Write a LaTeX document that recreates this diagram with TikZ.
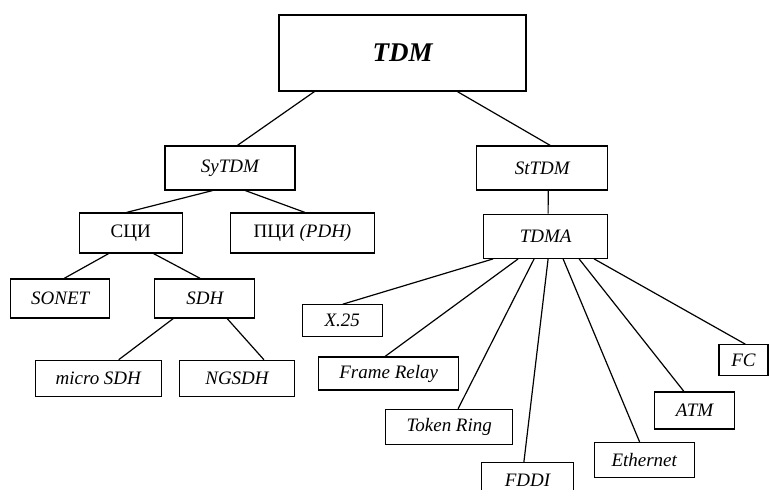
\documentclass[tikz,border=0pt]{standalone}
\usepackage{fontspec}
\setmainfont{Liberation Serif}
\usetikzlibrary{calc}

\tikzset{
  box/.style 2 args={draw, rectangle, inner sep=0pt, line width=0.6pt,
    minimum width=#1*0.5pt, minimum height=#2*0.5pt,
    font=\fontsize{9.5}{11}\selectfont\itshape},
  link/.style={line width=0.6pt}
}

\begin{document}
\begin{tikzpicture}[x=0.5pt, y=-0.5pt]
        \useasboundingbox (0,0) rectangle (769,489);
        \clip (0,0) rectangle (769,489);

        \node[box={247}{76}, font=\fontsize{13.5}{15}\selectfont\bfseries\itshape] (TDM) at (402.5,53) {TDM};

        \node[box={130}{44}] (SyTDM) at (230,168)   {SyTDM};
        \node[box={131}{44}] (StTDM) at (542.3,168) {StTDM};

        \node[box={103}{40}, font=\fontsize{9.5}{11}\selectfont] (SCI) at (130.7,233) {СЦИ};
        \node[box={144}{40}, font=\fontsize{9.5}{11}\selectfont] (PCI) at (302.5,233) {ПЦИ \textit{(PDH)}};
        \node[box={124}{44}] (TDMA) at (545.7,236.3) {TDMA};

        \node[box={99}{39}]  (SONET)  at (60.2,298.5)  {SONET};
        \node[box={100}{39}] (SDH)    at (204.8,298.5) {SDH};
        \node[box={126}{36}] (microSDH) at (98.3,378.3) {micro SDH};
        \node[box={115}{36}] (NGSDH)  at (237,378.3)   {NGSDH};

        \node[box={80}{32}]  (X25)    at (342.3,320.8) {X.25};
        \node[box={140}{33}] (FR)     at (388.7,373.5) {Frame Relay};
        \node[box={127}{35}] (TR)     at (449.2,426.8) {Token Ring};
        \node[box={92}{35}]  (FDDI)   at (527.5,480)   {FDDI};
        \node[box={100}{35}] (Eth)    at (644.2,460)   {Ethernet};
        \node[box={80}{37}]  (ATM)    at (694.5,410.5) {ATM};
        \node[box={49}{31}]  (FC)     at (743.5,360.3) {FC};

        % top level
        \draw[link] ($(TDM.south west)+(36,0)$)  -- ($(SyTDM.north west)+(73,0)$);
        \draw[link] ($(TDM.south west)+(179,0)$) -- ($(StTDM.north west)+(74,0)$);

        % synchronous branch
        \draw[link] ($(SyTDM.south west)+(48,0)$) -- ($(SCI.north west)+(48,0)$);
        \draw[link] ($(SyTDM.south west)+(81,0)$) -- ($(PCI.north west)+(75,0)$);
        \draw[link] ($(SCI.south west)+(30,0)$) -- ($(SONET.north west)+(54,0)$);
        \draw[link] ($(SCI.south west)+(75,0)$) -- ($(SDH.north west)+(46,0)$);
        \draw[link] ($(SDH.south west)+(19,0)$) -- ($(microSDH.north west)+(84,0)$);
        \draw[link] ($(SDH.south west)+(73,0)$) -- ($(NGSDH.north west)+(85,0)$);

        % statistical branch
        \draw[link] ($(StTDM.south west)+(72,0)$) -- ($(TDMA.north west)+(65,0)$);
        \draw[link] ($(TDMA.south west)+(10,0)$)  -- ($(X25.north west)+(41,0)$);
        \draw[link] ($(TDMA.south west)+(35,0)$)  -- ($(FR.north west)+(67,0)$);
        \draw[link] ($(TDMA.south west)+(51,0)$)  -- ($(TR.north west)+(73,0)$);
        \draw[link] ($(TDMA.south west)+(65,0)$)  -- ($(FDDI.north west)+(43,0)$);
        \draw[link] ($(TDMA.south west)+(80,0)$)  -- ($(Eth.north west)+(46,0)$);
        \draw[link] ($(TDMA.south west)+(96,0)$)  -- ($(ATM.north west)+(30,0)$);
        \draw[link] ($(TDMA.south west)+(111,0)$) -- ($(FC.north west)+(27,0)$);
\end{tikzpicture}
\end{document}
